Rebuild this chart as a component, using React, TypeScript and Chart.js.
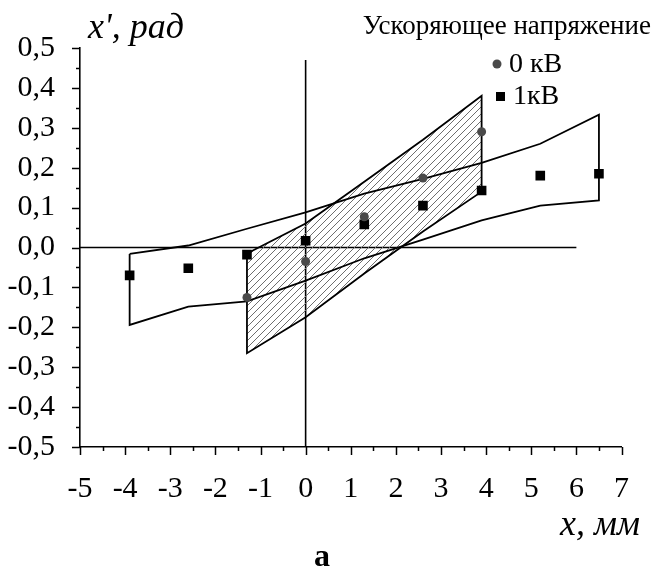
import React, { useEffect, useRef } from 'react';
import { Chart, registerables } from 'chart.js';

Chart.register(...registerables);

// ---- axis ranges & ticks ----
const X_MIN = -5;
const X_MAX = 7;
const Y_MIN = -0.5;
const Y_MAX = 0.5;
const xTickValues = [-5, -4, -3, -2, -1, 0, 1, 2, 3, 4, 5, 6, 7];
const xMinorValues = [-4.5, -3.5, -2.5, -1.5, -0.5, 0.5, 1.5, 2.5, 3.5, 4.5, 5.5, 6.5];
const yTickValues = [-0.5, -0.4, -0.3, -0.2, -0.1, 0, 0.1, 0.2, 0.3, 0.4, 0.5];
const yMinorValues = [-0.45, -0.35, -0.25, -0.15, -0.05, 0.05, 0.15, 0.25, 0.35, 0.45];

// ---- texts ----
const yAxisTitle = "x', рад";
const xAxisTitle = 'x, мм';
const legendTitle = 'Ускоряющее напряжение';
const seriesNames = ['0 кВ', '1кВ'];
const panelLabel = 'а';

// ---- series: 0 кВ (circles) ----
const kv0X = [-1.3, 0, 1.3, 2.6, 3.9];
const kv0Y = [-0.125, -0.035, 0.077, 0.174, 0.29];

// ---- series: 1 кВ (squares) ----
const kv1X = [-3.9, -2.6, -1.3, 0, 1.3, 2.6, 3.9, 5.2, 6.5];
const kv1Y = [-0.07, -0.052, -0.018, 0.017, 0.058, 0.105, 0.143, 0.18, 0.185];

// ---- hatched emittance region (0 кВ) ----
const hatchX = [-1.3, 0, 1.3, 2.6, 3.9, 3.9, 2.6, 1.3, 0, -1.3, -1.3];
const hatchY = [-0.015, 0.06, 0.165, 0.27, 0.38, 0.14, 0.04, -0.065, -0.175, -0.265, -0.015];

// ---- open envelope region (1 кВ) ----
const envX = [-3.9, -2.6, -1.3, 0, 1.3, 2.6, 3.9, 5.2, 6.5, 6.5, 5.2, 3.9, 2.6, 1.3, 0, -1.3, -2.6, -3.9, -3.9];
const envY = [-0.016, 0.005, 0.047, 0.088, 0.135, 0.172, 0.212, 0.26, 0.333, 0.118, 0.105, 0.068, 0.02, -0.027, -0.083, -0.135, -0.148, -0.194, -0.016];

// ---- reference lines ----
const hLineX = [-5, 6];
const hLineY = [0, 0];
const vLineX = [0, 0];
const vLineY = [-0.5, 0.47];

const zip = (xs: number[], ys: number[]) => xs.map((x, i) => ({ x, y: ys[i] }));

const SERIF = "'Liberation Serif', 'Times New Roman', serif";
const CIRCLE_COLOR = '#4a4a4a';
const SQUARE_COLOR = '#000000';

const decorPlugin = {
  id: 'decor',
  afterDraw(chart: any) {
    const ctx: CanvasRenderingContext2D = chart.ctx;
    const xs = chart.scales.x;
    const ys = chart.scales.y;
    ctx.save();
    ctx.strokeStyle = '#000';
    ctx.lineWidth = 1.5;
    // x ticks (down)
    const yb = ys.bottom;
    xTickValues.forEach((v) => {
      const px = Math.round(xs.getPixelForValue(v)) + 0.5;
      ctx.beginPath(); ctx.moveTo(px, yb); ctx.lineTo(px, yb + 8); ctx.stroke();
    });
    xMinorValues.forEach((v) => {
      const px = Math.round(xs.getPixelForValue(v)) + 0.5;
      ctx.beginPath(); ctx.moveTo(px, yb); ctx.lineTo(px, yb + 4); ctx.stroke();
    });
    // y ticks (left)
    const xl = xs.left;
    yTickValues.forEach((v) => {
      const py = Math.round(ys.getPixelForValue(v)) + 0.5;
      ctx.beginPath(); ctx.moveTo(xl, py); ctx.lineTo(xl - 8, py); ctx.stroke();
    });
    yMinorValues.forEach((v) => {
      const py = Math.round(ys.getPixelForValue(v)) + 0.5;
      ctx.beginPath(); ctx.moveTo(xl, py); ctx.lineTo(xl - 4, py); ctx.stroke();
    });

    // axis titles
    ctx.fillStyle = '#000';
    ctx.textBaseline = 'alphabetic';
    ctx.textAlign = 'left';
    ctx.font = `italic 36px ${SERIF}`;
    ctx.fillText(yAxisTitle, 88, 38);
    ctx.textAlign = 'right';
    ctx.font = `italic 36px ${SERIF}`;
    ctx.fillText(xAxisTitle, 640, 535);
    ctx.textAlign = 'center';
    ctx.font = `bold 32px ${SERIF}`;
    ctx.fillText(panelLabel, 322, 566);

    // legend
    ctx.textAlign = 'right';
    ctx.textBaseline = 'middle';
    ctx.font = `27px ${SERIF}`;
    ctx.fillText(legendTitle, 651, 27);
    ctx.textAlign = 'left';
    ctx.font = `28px ${SERIF}`;
    ctx.fillStyle = CIRCLE_COLOR;
    ctx.beginPath(); ctx.arc(497, 64, 4.5, 0, Math.PI * 2); ctx.fill();
    ctx.fillStyle = '#000';
    ctx.fillText(seriesNames[0], 509, 65);
    ctx.fillStyle = SQUARE_COLOR;
    ctx.fillRect(496, 92, 9, 9);
    ctx.fillStyle = '#000';
    ctx.fillText(seriesNames[1], 513, 97);
    ctx.restore();
  },
};

export default function App() {
  const ref = useRef<HTMLCanvasElement>(null);
  useEffect(() => {
    const canvas = ref.current!;
    const pc = document.createElement('canvas');
    const T = 7;
    pc.width = T;
    pc.height = T;
    const p = pc.getContext('2d')!;
    p.strokeStyle = '#6e6e6e';
    p.lineWidth = 1;
    p.beginPath();
    p.moveTo(0, T); p.lineTo(T, 0);
    p.moveTo(-1, 1); p.lineTo(1, -1);
    p.moveTo(T - 1, T + 1); p.lineTo(T + 1, T - 1);
    p.stroke();
    const pattern = canvas.getContext('2d')!.createPattern(pc, 'repeat');

    const lineDs = (data: any[], order: number, extra: any = {}) => ({
      data,
      order,
      showLine: true,
      borderColor: '#000',
      borderWidth: 1.8,
      pointRadius: 0,
      tension: 0,
      fill: false,
      ...extra,
    });

    const chart = new Chart(canvas, {
      type: 'line',
      data: {
        datasets: [
          {
            label: seriesNames[0],
            data: zip(kv0X, kv0Y),
            order: 0,
            showLine: false,
            pointStyle: 'circle',
            pointRadius: 4.5,
            backgroundColor: CIRCLE_COLOR,
            borderColor: CIRCLE_COLOR,
            borderWidth: 0,
          },
          {
            label: seriesNames[1],
            data: zip(kv1X, kv1Y),
            order: 1,
            showLine: false,
            pointStyle: 'rect',
            pointRadius: 6.8,
            backgroundColor: SQUARE_COLOR,
            borderColor: SQUARE_COLOR,
            borderWidth: 0,
          },
          lineDs(zip(envX, envY), 2),
          lineDs(zip(hatchX, hatchY), 3, { fill: 'shape', backgroundColor: pattern }),
          lineDs(zip(hLineX, hLineY), 4, { borderWidth: 1.6 }),
          lineDs(zip(vLineX, vLineY), 5, { borderWidth: 1.6 }),
        ] as any,
      },
      options: {
        responsive: false,
        animation: false,
        devicePixelRatio: 1,
        layout: { padding: { top: 48, right: 29, bottom: 0, left: 0 } },
        plugins: { legend: { display: false }, tooltip: { enabled: false } },
        scales: {
          x: {
            type: 'linear',
            min: X_MIN,
            max: X_MAX,
            grid: { display: false, drawTicks: false },
            border: { display: true, color: '#000', width: 1.6 },
            afterFit: (s: any) => { s.height = 127; },
            afterBuildTicks: (s: any) => { s.ticks = xTickValues.map((v) => ({ value: v })); },
            ticks: {
              padding: 24,
              color: '#000',
              font: { family: SERIF, size: 30 },
              maxRotation: 0,
              autoSkip: false,
              callback: (v: any) => String(v),
            },
          },
          y: {
            type: 'linear',
            min: Y_MIN,
            max: Y_MAX,
            grid: { display: false, drawTicks: false },
            border: { display: true, color: '#000', width: 1.6 },
            afterFit: (s: any) => { s.width = 80; },
            afterBuildTicks: (s: any) => { s.ticks = yTickValues.map((v) => ({ value: v })); },
            ticks: {
              padding: 25,
              color: '#000',
              font: { family: SERIF, size: 30 },
              autoSkip: false,
              callback: (v: any) => Number(v).toFixed(1).replace('.', ',').replace('-0,0', '0,0'),
            },
          },
        },
      } as any,
      plugins: [decorPlugin],
    });
    return () => chart.destroy();
  }, []);

  return (
    <div style={{ position: 'fixed', left: 0, top: 0, width: 653, height: 574, background: '#fff' }}>
      <canvas ref={ref} width={653} height={574} style={{ display: 'block' }} />
    </div>
  );
}
